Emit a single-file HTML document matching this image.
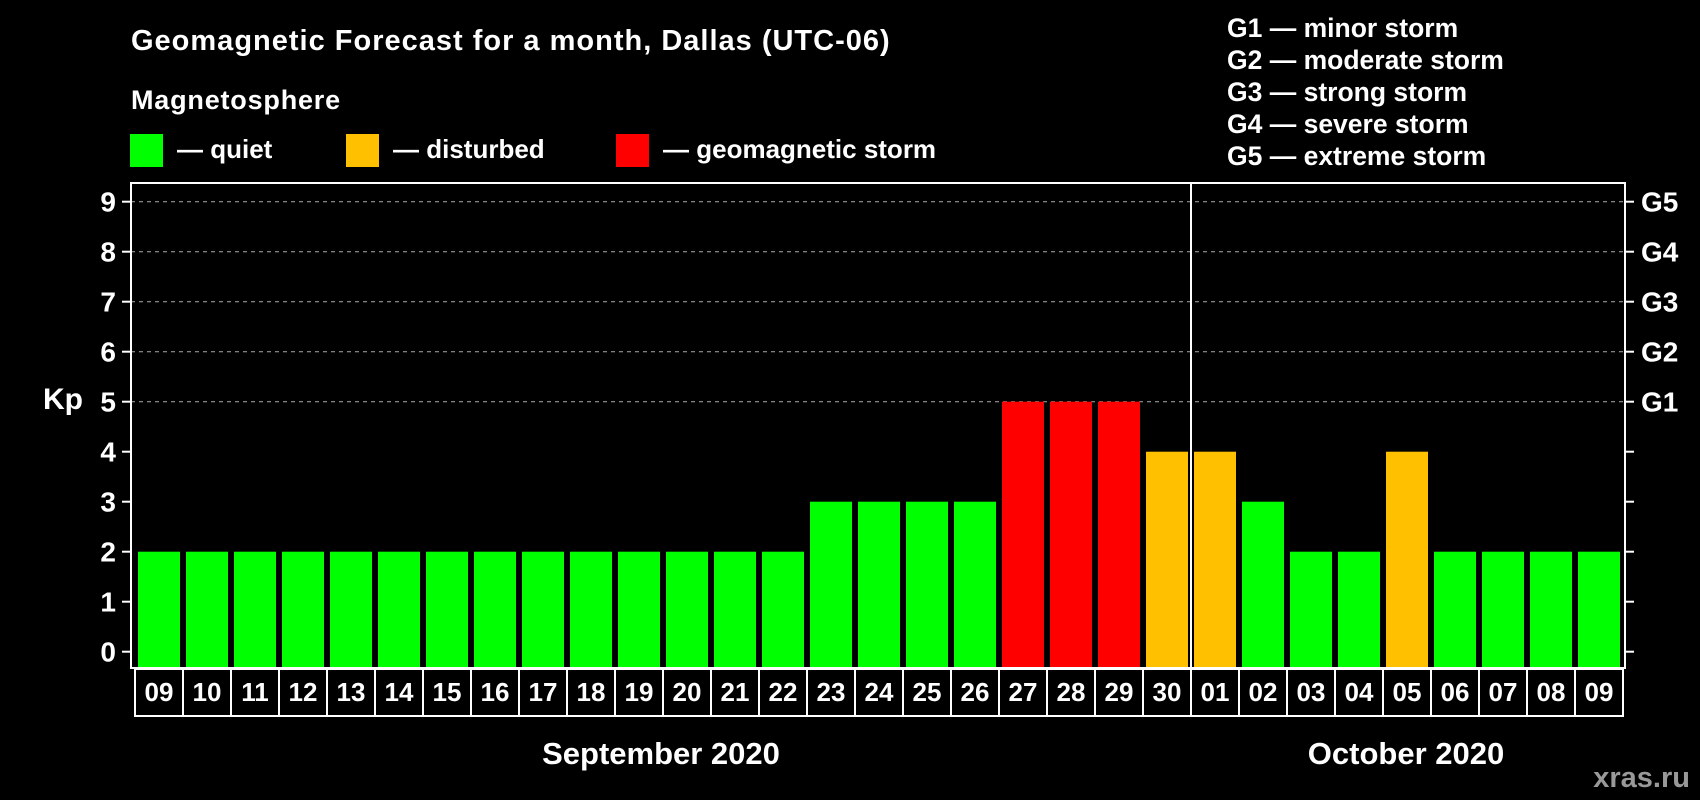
<!DOCTYPE html>
<html><head><meta charset="utf-8"><style>
html,body{margin:0;padding:0;background:#000;}
svg{display:block;font-family:"Liberation Sans",Arial,sans-serif;font-weight:bold;}
</style></head><body>
<svg id="chart" width="1700" height="800" viewBox="0 0 1700 800" xmlns="http://www.w3.org/2000/svg">
<rect width="1700" height="800" fill="#000"/>
<text x="131" y="50" fill="#fff" font-size="29" letter-spacing="1">Geomagnetic Forecast for a month, Dallas (UTC-06)</text>
<text x="131" y="109" fill="#fff" font-size="27" letter-spacing="0.8">Magnetosphere</text>
<g>
<rect x="130" y="134" width="33" height="33" fill="#00ff00"/>
<text x="177" y="158" fill="#fff" font-size="26">— quiet</text></g>
<g>
<rect x="346" y="134" width="33" height="33" fill="#ffc000"/>
<text x="393" y="158" fill="#fff" font-size="26">— disturbed</text></g>
<g>
<rect x="616" y="134" width="33" height="33" fill="#ff0000"/>
<text x="663" y="158" fill="#fff" font-size="26">— geomagnetic storm</text></g>
<g fill="#fff" font-size="26.5">
<text x="1227" y="37">G1 — minor storm</text>
<text x="1227" y="69">G2 — moderate storm</text>
<text x="1227" y="101">G3 — strong storm</text>
<text x="1227" y="133">G4 — severe storm</text>
<text x="1227" y="165">G5 — extreme storm</text>
</g>
<text x="63" y="409" fill="#fff" font-size="30" text-anchor="middle">Kp</text>
<g id="grid"></g>
<g id="bars"></g>
<rect x="131" y="183" width="1494" height="485" fill="none" stroke="#fff" stroke-width="2"/>
<line x1="1191" y1="183" x2="1191" y2="716" stroke="#fff" stroke-width="2"/>
<g id="axes"></g>
<text x="661" y="764" fill="#fff" font-size="31" text-anchor="middle">September 2020</text>
<text x="1406" y="764" fill="#fff" font-size="31" text-anchor="middle">October 2020</text>
<text x="1690" y="787" fill="#999" font-size="29" text-anchor="end">xras.ru</text>
</svg>
<script>
const days = ["09","10","11","12","13","14","15","16","17","18","19","20","21","22","23","24","25","26","27","28","29","30","01","02","03","04","05","06","07","08","09"];
const kp = [2,2,2,2,2,2,2,2,2,2,2,2,2,2,3,3,3,3,5,5,5,4,4,3,2,2,4,2,2,2,2];
const yTicks = [0,1,2,3,4,5,6,7,8,9];
const gLabels = ["","","","","","G1","G2","G3","G4","G5"];
const NS="http://www.w3.org/2000/svg";
const x0=131, x1=1625, pitch=48;
const y = v => 651.7 - v*50.0;
const xs = i => 138 + i*pitch;
function color(v){return v>=5?"#ff0000":(v>=4?"#ffc000":"#00ff00");}
function mk(t,a){const e=document.createElementNS(NS,t);for(const k in a)e.setAttribute(k,a[k]);return e;}
const grid=document.getElementById('grid'), bars=document.getElementById('bars'), axes=document.getElementById('axes');
yTicks.forEach((t,i)=>{
  if(t>=5){const l=mk('line',{x1:x0,x2:x1,y1:y(t),y2:y(t),stroke:'#aaa','stroke-dasharray':'4 4','stroke-width':1});
  
  
  grid.appendChild(l);}
  const tl=mk('line',{x1:122,x2:131,y1:y(t),y2:y(t),stroke:'#fff','stroke-width':2});
  
  
  axes.appendChild(tl);
  const tr=mk('line',{x1:x1,x2:x1+9,y1:y(t),y2:y(t),stroke:'#fff','stroke-width':2});
  
  
  axes.appendChild(tr);
  const lb=mk('text',{x:116,y:y(t)+10,fill:'#fff','font-size':28,'text-anchor':'end'});
  lb.textContent=t;
  
  
  axes.appendChild(lb);
  if(gLabels[i]){const g=mk('text',{x:1641,y:y(t)+10,fill:'#fff','font-size':28});
  g.textContent=gLabels[i];
  
  
  axes.appendChild(g);}
});
kp.forEach((v,i)=>{
  const r=mk('rect',{x:xs(i),y:y(v),width:42,height:667-y(v),fill:color(v)});
  
  
  bars.appendChild(r);
});
days.forEach((d,i)=>{
  const cx=135+i*pitch;
  const b=mk('rect',{x:cx,y:669,width:pitch,height:47,fill:'none',stroke:'#fff','stroke-width':2});
  
  
  axes.appendChild(b);
  const t=mk('text',{x:cx+pitch/2,y:701,fill:'#fff','font-size':26,'text-anchor':'middle'});
  t.textContent=d;
  
  
  axes.appendChild(t);
});
</script>
</body></html>
